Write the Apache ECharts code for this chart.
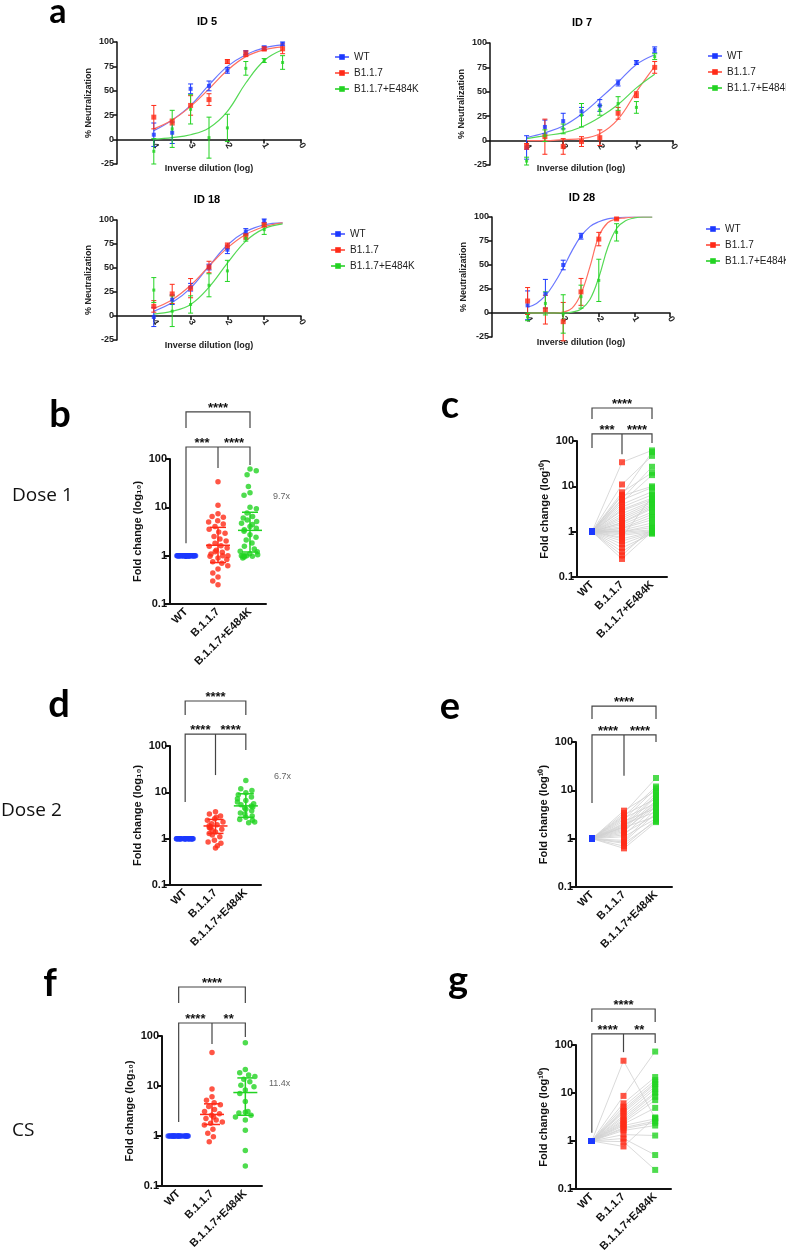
<!DOCTYPE html>
<html><head><meta charset="utf-8">
<script src="https://cdn.jsdelivr.net/npm/echarts@6.0.0/dist/echarts.min.js"></script>
<style>html,body{margin:0;padding:0;background:#fff}#chart{width:786px;height:1258px}</style>
</head><body><div id="chart"></div>
<script>
// ---------------- DATA ----------------
const groupNames = ['WT', 'B1.1.7', 'B1.1.7+E484K'];
const catLabels = ['WT', 'B.1.1.7', 'B.1.1.7+E484K'];
const xTickValues = [0, 1, 2, 3, 4];

// panel a : % neutralization (mean, error) per log inverse dilution
const dilutions = [4, 3.5, 3, 2.5, 2, 1.5, 1, 0.5];
const dilutions18 = [4, 3.5, 3, 2.5, 2, 1.5, 1];
const dilutions28 = [4, 3.5, 3, 2.5, 2, 1.5];
const dilutions28WT = [4, 3.5, 3, 2.5];
const fitX = [4, 3.5, 3, 2.5, 2, 1.5, 1, 0.5];
const fitX28 = [4, 3.75, 3.5, 3.25, 3, 2.75, 2.5, 2.25, 2, 1.75, 1.5, 1.25, 1, 0.75, 0.5];

const id5_WT = [5, 7, 52, 55, 71, 89, 94, 98];
const id5_WT_err = [12, 11, 5, 5, 3, 2, 2, 2];
const id5_B = [23, 18, 35, 41, 80, 88, 93, 93];
const id5_B_err = [12, 3, 10, 6, 2, 3, 2, 5];
const id5_E = [-12, 11, 31, 2, 12, 73, 81, 79];
const id5_E_err = [13, 19, 15, 21, 14, 7, 2, 7];
const id5_WT_fit = [9, 20, 35, 56, 75, 87, 94, 97];
const id5_B_fit = [11, 20, 34, 52, 71, 85, 92, 95];
const id5_E_fit = [0.5, 2, 5, 12, 29, 58, 81, 92];

const id7_WT = [-7, 14, 20, 30, 36, 59, 80, 93];
const id7_WT_err = [12, 7, 8, 4, 6, 3, 2, 3];
const id7_B = [-6, 4, -6, -1, 3, 28, 47, 75];
const id7_B_err = [3, 18, 8, 5, 8, 6, 3, 6];
const id7_E = [-21, 5, 12, 26, 31, 38, 34, 86];
const id7_E_err = [4, 6, 5, 12, 5, 7, 6, 3];
const id7_WT_fit = [3, 8, 15, 27, 43, 60, 78, 88];
const id7_B_fit = [0, 0, 1, 2, 7, 22, 50, 76];
const id7_E_fit = [2, 5, 8, 14, 24, 37, 54, 68];

const id18_WT = [-1, 17, 30, 51, 69, 88, 99];
const id18_WT_err = [10, 5, 4, 3, 4, 3, 2];
const id18_B = [10, 23, 29, 51, 73, 83, 95];
const id18_B_err = [6, 10, 10, 6, 3, 3, 2];
const id18_E = [27, 5, 12, 32, 47, 81, 90];
const id18_E_err = [13, 16, 9, 12, 11, 3, 5];
const id18_WT_fit = [5, 14, 29, 52, 74, 88, 95, 97];
const id18_B_fit = [8, 17, 32, 52, 71, 85, 93, 97];
const id18_E_fit = [2, 5, 12, 30, 55, 78, 91, 96];

const id28_WT = [8, 20, 50, 80];
const id28_WT_err = [15, 15, 5, 3];
const id28_B = [12.5, 3.5, -9, 22, 77, 98];
const id28_B_err = [14, 15, 20, 14, 7, 1];
const id28_E = [-4, 10, -1, 17, 34, 84];
const id28_E_err = [4, 12, 20, 12, 22, 9];
const id28_WT_fit = [6, 10, 18, 31, 47, 65, 80, 90, 95, 98, 99, 100, 100, 100, 100];
const id28_B_fit = [0, 0, 0, 0, 1, 5, 20, 48, 80, 94, 98, 99, 100, 100, 100];
const id28_E_fit = [0, 0, 0, 0, 0, 1, 4, 14, 37, 68, 88, 96, 99, 100, 100];

// panels b, c : Dose 1 fold change (paired by index)
const dose1_WT = [1,1,1,1,1,1,1,1,1,1,1,1,1,1,1,1,1,1,1,1,1,1,1,1,1,1,1,1,1,1,1,1,1,1,1,1];
const dose1_B = [34, 11, 7.4, 6.5, 6.2, 5.3, 5.0, 4.5, 4.0, 3.5, 3.1, 2.9, 2.5, 2.2, 2.0, 1.8, 1.6, 1.56,
                 1.44, 1.3, 1.2, 1.17, 1.08, 1.0, 1.0, 0.97, 0.9, 0.83, 0.75, 0.7, 0.62, 0.53, 0.44, 0.36, 0.3, 0.25];
const dose1_E = [62, 47, 20, 57, 10, 27, 9.4, 17.7, 7.6, 6.5, 5.5, 5.1, 4.7, 4.4, 4.0, 3.7, 3.45, 3.2,
                 2.7, 2.4, 2.1, 1.83, 1.56, 1.37, 1.23, 1.1, 1.05, 1.0, 6.0, 1.0, 0.97, 0.94, 0.9, 1.0, 1.2, 1.0];
const dose1_B_meanSD = [1.64, 0.72, 3.85];
const dose1_E_meanSD = [3.34, 1.19, 7.9];

// panels d, e : Dose 2
const dose2_WT = [1,1,1,1,1,1,1,1,1,1,1,1,1,1,1,1,1,1,1,1,1,1,1,1];
const dose2_B = [3.8, 3.4, 3.1, 2.9, 2.7, 2.5, 2.3, 2.1, 2.0, 1.9, 1.8, 1.75, 1.7, 1.6, 1.5, 1.4, 1.3, 1.2, 1.1, 0.92, 0.85, 0.8, 0.7, 0.63];
const dose2_E = [9.8, 18, 6.7, 12, 5.4, 11, 4.3, 8.9, 3.6, 7.9, 5.1, 7.3, 2.9, 6.2, 4.8, 5.7, 3.1, 4.6, 2.6, 4.0, 3.4, 2.3, 2.5, 2.2];
const dose2_B_meanSD = [1.88, 1.3, 2.6];
const dose2_E_meanSD = [5.1, 2.9, 9.3];

// panels f, g : CS
const cs_WT = [1,1,1,1,1,1,1,1,1,1,1,1,1,1,1,1,1,1,1,1,1];
const cs_B = [47, 8.7, 6.1, 5.2, 4.6, 4.2, 3.9, 3.4, 3.1, 2.8, 2.6, 2.4, 2.25, 2.1, 1.9, 1.8, 1.66, 1.36, 1.13, 0.97, 0.77];
const cs_E = [3.0, 73, 21.5, 18.5, 16.6, 15.4, 13.6, 12.2, 10.4, 9.7, 8.3, 7.1, 4.9, 2.9, 2.6, 2.4, 2.1, 1.3, 0.51, 0.25, 3.1];
const cs_B_meanSD = [2.7, 1.7, 4.4];
const cs_E_meanSD = [7.4, 2.6, 14.5];

// significance labels
const sigDose1 = ['****', '***', '****'];
const sigDose2 = ['****', '****', '****'];
const sigCS = ['****', '****', '**'];

// ---------------- STYLE / LAYOUT ----------------
const FONT = "'Liberation Sans', Arial, sans-serif";
const BLUE = '#1b38ff', RED = '#ff2a17', GREEN = '#22d322';
const CBLUE = '#6b78ff', CRED = '#ff6f62', CGREEN = '#55d955';
const AX = '#111';

const grids = [], xAxis = [], yAxis = [], series = [], legend = [], graphicEls = [];

function errRender(params, api) {
  const x = api.value(0), m = api.value(1), e = api.value(2);
  const t = api.coord([x, m + e]), b = api.coord([x, m - e]);
  const w = 2.5, st = { stroke: api.visual('color'), lineWidth: 1 };
  return { type: 'group', children: [
    { type: 'line', shape: { x1: t[0], y1: t[1], x2: b[0], y2: b[1] }, style: st },
    { type: 'line', shape: { x1: t[0] - w, y1: t[1], x2: t[0] + w, y2: t[1] }, style: st },
    { type: 'line', shape: { x1: b[0] - w, y1: b[1], x2: b[0] + w, y2: b[1] }, style: st }
  ]};
}

function addCurvePanel(box, sets, legendPos) {
  const g = grids.length;
  grids.push({ left: box[0], top: box[1], width: box[2], height: box[3] });
  const lbl = { fontSize: 9, fontWeight: 'bold', color: '#222', fontFamily: FONT };
  // x axis sits on the 0 % line: offset it up by the -25..0 share of the plot height
  xAxis.push({ type: 'value', gridIndex: g, inverse: true, min: 0, max: 5, interval: 1,
    offset: -box[3] * 25 / 125,
    axisLine: { onZero: false, lineStyle: { color: AX, width: 1.5 } },
    axisTick: { show: true, length: 4, customValues: xTickValues, lineStyle: { color: AX, width: 1.5 } },
    axisLabel: Object.assign({ customValues: xTickValues, rotate: -60, margin: 4 }, lbl),
    splitLine: { show: false } });
  yAxis.push({ type: 'value', gridIndex: g, min: -25, max: 100, interval: 25,
    axisLine: { show: true, onZero: false, lineStyle: { color: AX, width: 1.5 } },
    axisTick: { show: true, length: 4, lineStyle: { color: AX, width: 1.5 } },
    axisLabel: Object.assign({ margin: 3 }, lbl), splitLine: { show: false },
    name: '% Neutralization', nameLocation: 'middle', nameGap: 24, nameTextStyle: lbl });
  sets.forEach(s => series.push({ type: 'line', name: s.name, xAxisIndex: g, yAxisIndex: g,
    data: s.fx.map((x, i) => [x, s.fy[i]]), smooth: 0.4, showSymbol: false, symbol: 'rect', symbolSize: 5,
    lineStyle: { color: s.cc, width: 1.2 }, itemStyle: { color: s.color }, silent: true, z: 2 }));
  sets.forEach(s => {
    series.push({ type: 'custom', name: s.name, xAxisIndex: g, yAxisIndex: g, clip: false, silent: true, z: 3,
      itemStyle: { color: s.color }, renderItem: errRender,
      data: s.x.map((x, i) => [x, s.y[i], s.err[i]]), encode: { x: 0, y: 1 } });
    series.push({ type: 'scatter', name: s.name, xAxisIndex: g, yAxisIndex: g, symbol: 'rect', symbolSize: s.size,
      itemStyle: { color: s.color }, data: s.x.map((x, i) => [x, s.y[i]]), z: 4, silent: true });
  });
  legend.push({ left: legendPos[0], top: legendPos[1], orient: 'vertical', data: groupNames,
    itemWidth: 14, itemHeight: 7, itemGap: 4, selectedMode: false,
    textStyle: { fontSize: 10, color: '#222', fontFamily: FONT, lineHeight: 12 } });
}

function mk(name, color, cc, x, y, err, fx, fy, size) { return { name, color, cc, x, y, err, fx, fy, size }; }

function bracketSeries(g, cfg, stars) {
  return { type: 'custom', xAxisIndex: g, yAxisIndex: g, clip: false, silent: true, z: 6,
    data: [[0, 1]], encode: { x: 0, y: 1 },
    renderItem(params, api) {
      const X = i => api.coord([i, 1])[0];
      const Y = v => api.coord([0, v])[1];
      const x0 = X(0), x1 = X(1), x2 = X(2);
      const st = { stroke: '#444', lineWidth: 1.2, fill: null };
      const yT = Y(cfg.top), yTL = Y(cfg.topLeg), yL = Y(cfg.low);
      const txt = (x, y, t) => ({ type: 'text', style: { text: t, x: x, y: y, align: 'center', verticalAlign: 'middle',
        textAlign: 'center', textVerticalAlign: 'middle', font: 'bold 13px ' + FONT, fill: '#111' } });
      return { type: 'group', children: [
        { type: 'polyline', shape: { points: [[x0, yTL], [x0, yT], [x2, yT], [x2, yTL]] }, style: st },
        { type: 'polyline', shape: { points: [[x0, Y(cfg.legs[0])], [x0, yL], [x2, yL], [x2, Y(cfg.legs[2])]] }, style: st },
        { type: 'line', shape: { x1: x1, y1: yL, x2: x1, y2: Y(cfg.legs[1]) }, style: st },
        txt(x1, yT - 4, stars[0]), txt((x0 + x1) / 2, yL - 4, stars[1]), txt((x1 + x2) / 2, yL - 4, stars[2])
      ]};
    } };
}

function foldAxes(g, box, jitter, yName) {
  grids.push({ left: box[0], top: box[1], width: box[2], height: box[3] });
  const lbl = { fontSize: 11, fontWeight: 'bold', color: '#111', fontFamily: FONT };
  xAxis.push({ type: 'category', gridIndex: g, data: catLabels, boundaryGap: true,
    jitter: jitter, jitterOverlap: false, jitterMargin: 1,
    axisLine: { lineStyle: { color: AX, width: 2 } },
    axisTick: { alignWithLabel: true, length: 5, lineStyle: { color: AX, width: 2 } },
    axisLabel: Object.assign({ interval: 0, rotate: 45, margin: 6 }, lbl) });
  yAxis.push({ type: 'log', gridIndex: g, logBase: 10, min: 0.1, max: 100,
    axisLine: { show: true, onZero: false, lineStyle: { color: AX, width: 2 } },
    axisTick: { show: true, length: 5, lineStyle: { color: AX, width: 2 } },
    axisLabel: Object.assign({ margin: 3 }, lbl), splitLine: { show: false },
    name: yName, nameLocation: 'middle', nameGap: 27, nameTextStyle: lbl });
}

function meanSdRender(params, api) {
  const x = api.value(0);
  const m = api.coord([x, api.value(1)]), lo = api.coord([x, api.value(2)]), hi = api.coord([x, api.value(3)]);
  const st = { stroke: api.visual('color'), lineWidth: 1.5 };
  return { type: 'group', children: [
    { type: 'line', shape: { x1: m[0] - 12, y1: m[1], x2: m[0] + 12, y2: m[1] }, style: st },
    { type: 'line', shape: { x1: lo[0], y1: lo[1], x2: hi[0], y2: hi[1] }, style: st },
    { type: 'line', shape: { x1: hi[0] - 8, y1: hi[1], x2: hi[0] + 8, y2: hi[1] }, style: st },
    { type: 'line', shape: { x1: lo[0] - 8, y1: lo[1], x2: lo[0] + 8, y2: lo[1] }, style: st }
  ]};
}

function addDotPanel(box, wt, b, e, bMS, eMS, cfg, stars, jitter) {
  const g = grids.length;
  foldAxes(g, box, jitter, 'Fold change (log\u2081\u2080)');
  [[wt, 0, BLUE], [b, 1, RED], [e, 2, GREEN]].forEach(([arr, c, col]) => series.push({
    type: 'scatter', xAxisIndex: g, yAxisIndex: g, symbol: 'circle', symbolSize: 5.5, silent: true, z: 3,
    itemStyle: { color: col }, data: arr.map(v => [c, v]) }));
  series.push({ type: 'custom', xAxisIndex: g, yAxisIndex: g, clip: false, silent: true, z: 5, renderItem: meanSdRender,
    encode: { x: 0, y: 1 },
    data: [{ value: [1].concat(bMS), itemStyle: { color: RED } }, { value: [2].concat(eMS), itemStyle: { color: GREEN } }] });
  series.push(bracketSeries(g, cfg, stars));
}

function addPairPanel(box, wt, b, e, cfg, stars) {
  const g = grids.length;
  foldAxes(g, box, 0, 'Fold change (log\u00b9\u2070)');
  series.push({ type: 'custom', xAxisIndex: g, yAxisIndex: g, clip: false, silent: true, z: 2,
    encode: { x: 0, y: 1 }, data: wt.map((w, i) => [0, w, b[i], e[i]]),
    renderItem(params, api) {
      const p0 = api.coord([0, api.value(1)]), p1 = api.coord([1, api.value(2)]), p2 = api.coord([2, api.value(3)]);
      return { type: 'polyline', shape: { points: [p0, p1, p2] }, style: { stroke: '#d0d0d0', lineWidth: 0.8, fill: null } };
    } });
  [[wt, 0, BLUE], [b, 1, RED], [e, 2, GREEN]].forEach(([arr, c, col]) => series.push({
    type: 'scatter', xAxisIndex: g, yAxisIndex: g, symbol: 'rect', symbolSize: 6, silent: true, z: 3,
    itemStyle: { color: col }, data: arr.map(v => [c, v]) }));
  series.push(bracketSeries(g, cfg, stars));
}

// ---------------- BUILD ----------------
addCurvePanel([117, 42, 184, 122], [
  mk('WT', BLUE, CBLUE, dilutions, id5_WT, id5_WT_err, fitX, id5_WT_fit, 4),
  mk('B1.1.7', RED, CRED, dilutions, id5_B, id5_B_err, fitX, id5_B_fit, 5),
  mk('B1.1.7+E484K', GREEN, CGREEN, dilutions, id5_E, id5_E_err, fitX, id5_E_fit, 3)], [329, 46]);
addCurvePanel([490, 43, 183, 122], [
  mk('WT', BLUE, CBLUE, dilutions, id7_WT, id7_WT_err, fitX, id7_WT_fit, 4),
  mk('B1.1.7', RED, CRED, dilutions, id7_B, id7_B_err, fitX, id7_B_fit, 5),
  mk('B1.1.7+E484K', GREEN, CGREEN, dilutions, id7_E, id7_E_err, fitX, id7_E_fit, 3)], [702, 45]);
addCurvePanel([117, 220, 184, 120], [
  mk('WT', BLUE, CBLUE, dilutions18, id18_WT, id18_WT_err, fitX, id18_WT_fit, 4),
  mk('B1.1.7', RED, CRED, dilutions18, id18_B, id18_B_err, fitX, id18_B_fit, 5),
  mk('B1.1.7+E484K', GREEN, CGREEN, dilutions18, id18_E, id18_E_err, fitX, id18_E_fit, 3)], [325, 223]);
addCurvePanel([492, 217, 178, 120], [
  mk('WT', BLUE, CBLUE, dilutions28WT, id28_WT, id28_WT_err, fitX28, id28_WT_fit, 4),
  mk('B1.1.7', RED, CRED, dilutions28, id28_B, id28_B_err, fitX28, id28_B_fit, 5),
  mk('B1.1.7+E484K', GREEN, CGREEN, dilutions28, id28_E, id28_E_err, fitX28, id28_E_fit, 3)], [700, 218]);

addDotPanel([170, 459, 96, 145], dose1_WT, dose1_B, dose1_E, dose1_B_meanSD, dose1_E_meanSD,
  { top: 940, topLeg: 440, low: 177, legs: [1.8, 65, 75] }, sigDose1, 20);
addPairPanel([577, 441, 90, 136], dose1_WT, dose1_B, dose1_E,
  { top: 535, topLeg: 305, low: 143, legs: [70, 51, 90] }, sigDose1);
addDotPanel([170, 746, 91, 139], dose2_WT, dose2_B, dose2_E, dose2_B_meanSD, dose2_E_meanSD,
  { top: 935, topLeg: 466, low: 181, legs: [6.2, 23.6, 82] }, sigDose2, 18);
addPairPanel([576, 742, 96, 145], dose2_WT, dose2_B, dose2_E,
  { top: 555, topLeg: 300, low: 140, legs: [5.5, 20, 100] }, sigDose2);
addDotPanel([162, 1036, 100, 150], cs_WT, cs_B, cs_E, cs_B_meanSD, cs_E_meanSD,
  { top: 955, topLeg: 457, low: 182, legs: [1.9, 69, 95] }, sigCS, 21);
addPairPanel([576, 1045, 95, 144], cs_WT, cs_B, cs_E,
  { top: 562, topLeg: 302, low: 170, legs: [1.48, 71, 110] }, sigCS);

function txt(t, x, y, font, fill, align) {
  graphicEls.push({ type: 'text', x: x, y: y, silent: true, style: { text: t, font: font, fill: fill || '#000',
    textAlign: align || 'center', textVerticalAlign: 'middle', align: align || 'center', verticalAlign: 'middle' } });
}
const LET = "bold 38px Lato, 'Liberation Sans', sans-serif";
txt('a', 58, 12, "bold 34px Lato, 'Liberation Sans', sans-serif");
txt('b', 60, 415, LET); txt('c', 450, 406, LET);
txt('d', 59, 705, LET); txt('e', 450, 707, LET);
txt('f', 50, 984, LET); txt('g', 458, 981, LET);
const TF = 'bold 11px ' + FONT;
txt('ID 5', 207, 22, TF); txt('ID 7', 582, 23, TF); txt('ID 18', 207, 200, TF); txt('ID 28', 582, 198, TF);
const XN = 'bold 9px ' + FONT;
txt('Inverse dilution (log)', 209, 169, XN, '#222'); txt('Inverse dilution (log)', 581, 169, XN, '#222');
txt('Inverse dilution (log)', 209, 346, XN, '#222'); txt('Inverse dilution (log)', 581, 343, XN, '#222');
const DF = "19px 'Open Sans', Lato, sans-serif";
txt('Dose 1', 12, 496, DF, '#111', 'left');
txt('Dose 2', 1, 811, DF, '#111', 'left');
txt('CS', 12, 1131, DF, '#111', 'left');
const FF = '9px ' + FONT;
txt('9.7x', 273, 497, FF, '#666', 'left');
txt('6.7x', 274, 777, FF, '#666', 'left');
txt('11.4x', 269, 1084, FF, '#666', 'left');

const chart = echarts.init(document.getElementById('chart'), null, { renderer: 'canvas' });
chart.setOption({
  backgroundColor: '#fff', animation: false,
  textStyle: { fontFamily: FONT },
  grid: grids, xAxis: xAxis, yAxis: yAxis, legend: legend, series: series,
  graphic: { elements: graphicEls }
});
</script></body></html>
